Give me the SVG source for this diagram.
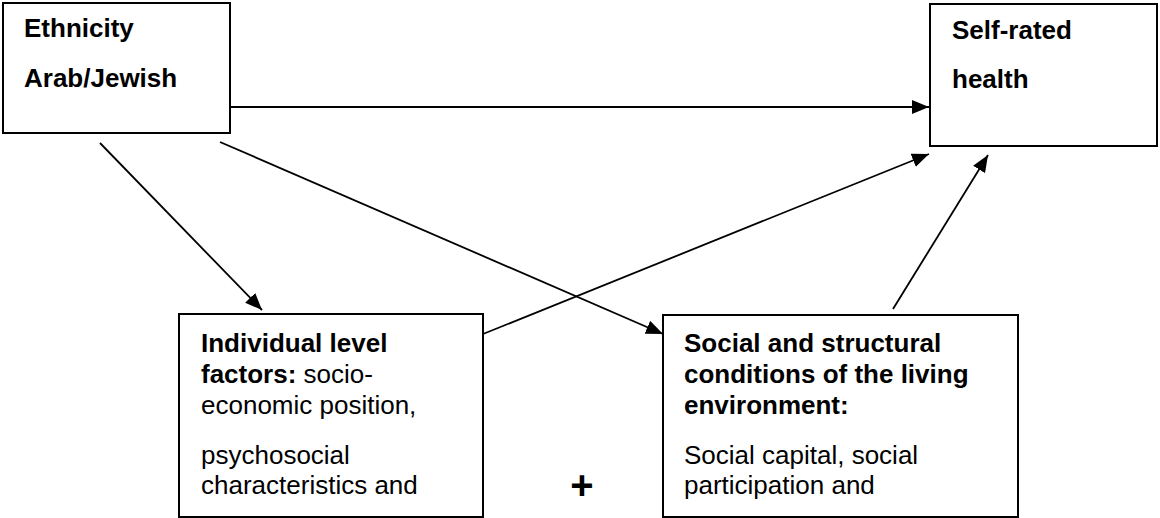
<svg xmlns="http://www.w3.org/2000/svg" width="1160" height="518" viewBox="0 0 1160 518">
<style>
.box{fill:#fff;stroke:#000;stroke-width:2}
.t{font-family:"Liberation Sans",Arial,sans-serif;font-size:26px;fill:#000}
.b{font-weight:bold}
.c{stroke:#000;stroke-width:1.8;fill:none;marker-end:url(#ah)}
</style>
<defs>
<marker id="ah" markerUnits="userSpaceOnUse" markerWidth="17" markerHeight="14" refX="17" refY="7" orient="auto">
<path d="M0,0 L17,7 L0,14 z" fill="#000"/>
</marker>
</defs>
<rect width="1160" height="518" fill="#fff"/>
<g id="connectors">
<line class="c" x1="230" y1="107" x2="929" y2="107"/>
<line class="c" x1="100" y1="143" x2="262" y2="310"/>
<line class="c" x1="220" y1="142" x2="663" y2="334"/>
<line class="c" x1="483" y1="334" x2="929" y2="154"/>
<line class="c" x1="893" y1="309" x2="988" y2="155"/>
</g>
<g id="ethnicity">
<rect class="box" x="3" y="3" width="227" height="130"/>
<text class="t b" x="24" y="37">Ethnicity</text>
<text class="t b" x="24" y="87">Arab/Jewish</text>
</g>
<g id="health">
<rect class="box" x="930" y="4" width="227" height="142"/>
<text class="t b" x="952" y="39">Self-rated</text>
<text class="t b" x="952" y="88">health</text>
</g>
<g id="individual">
<rect class="box" x="179" y="314" width="304" height="203"/>
<text class="t" x="201" y="352"><tspan class="b">Individual level</tspan></text>
<text class="t" x="201" y="383"><tspan class="b">factors:</tspan> socio-</text>
<text class="t" x="201" y="414">economic position,</text>
<text class="t" x="201" y="464">psychosocial</text>
<text class="t" x="201" y="494">characteristics and</text>
</g>
<g id="social">
<rect class="box" x="663" y="315" width="355" height="202"/>
<text class="t b" x="684" y="352">Social and structural</text>
<text class="t b" x="684" y="383">conditions of the living</text>
<text class="t b" x="684" y="414">environment:</text>
<text class="t" x="684" y="464">Social capital, social</text>
<text class="t" x="684" y="494">participation and</text>
</g>
<g id="plus">
<text class="t b" x="582" y="499" text-anchor="middle" style="font-size:40px">+</text>
</g>
</svg>
